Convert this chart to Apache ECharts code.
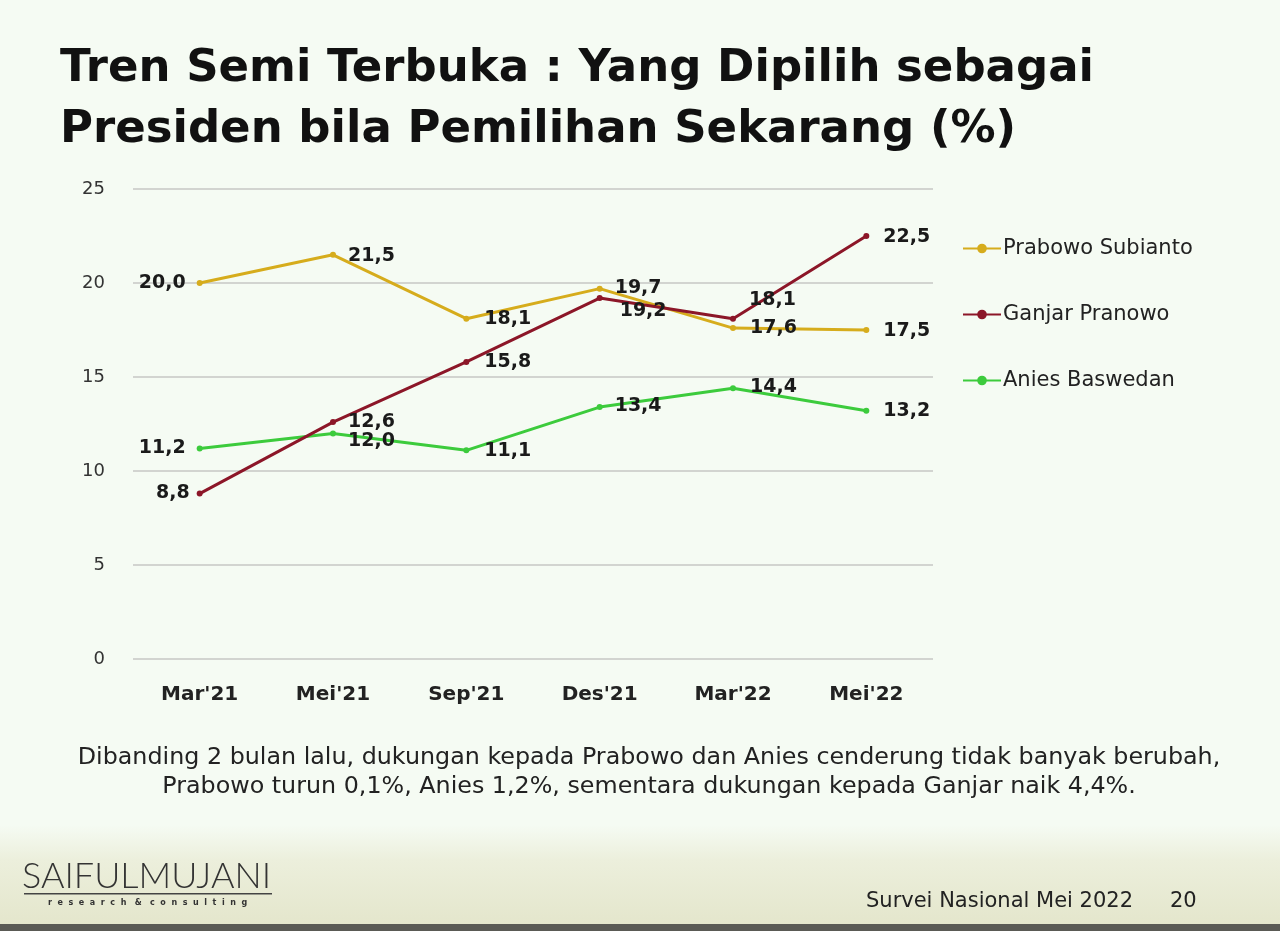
<!DOCTYPE html>
<html><head><meta charset="utf-8">
<script src="https://cdn.jsdelivr.net/npm/echarts@6/dist/echarts.min.js"></script>
<style>html,body{margin:0;padding:0;background:#f5fbf3;}#c{width:1280px;height:931px;}</style>
</head><body><div id="c"></div>
<script>
var categories = ["Mar'21","Mei'21","Sep'21","Des'21","Mar'22","Mei'22"];
var prabowo = [20.0, 21.5, 18.1, 19.7, 17.6, 17.5];
var ganjar  = [8.8, 12.6, 15.8, 19.2, 18.1, 22.5];
var anies   = [11.2, 12.0, 11.1, 13.4, 14.4, 13.2];
var seriesNames = ['Prabowo Subianto','Ganjar Pranowo','Anies Baswedan'];
var yTicks = [0, 5, 10, 15, 20, 25];

var FONT = '"DejaVu Sans", Verdana, sans-serif';
var labelBase = {show:true, fontFamily:FONT, fontSize:19, fontWeight:'bold', color:'#1a1a1a',
  formatter:function(p){return p.value.toFixed(1).replace('.', ',');}};
function withLabels(vals, specs){
  return vals.map(function(v,i){
    var s = specs[i];
    return {value:v, label:{position:s[0], offset:[s[1], s[2]]}};
  });
}
var pLab = [['left',-6,0],['right',7,1],['right',10,0],['right',7,-1],['right',9,0],['right',9,1]];
var gLab = [['left',-2,0],['right',7,0],['right',10,0],['right',12,13],['right',8,-19],['right',9,1]];
var aLab = [['left',-6,0],['right',7,8],['right',10,1],['right',7,-1],['right',9,-1],['right',9,0]];

var chart = echarts.init(document.getElementById('c'), null, {renderer:'canvas'});
var option = {
  backgroundColor:'#f5fbf3',
  animation:false,
  grid:{left:133, right:347, top:189, bottom:272},
  legend:{orient:'vertical', left:957, top:233, itemGap:45, itemWidth:38, itemHeight:12,
    textStyle:{fontFamily:FONT, fontSize:21, color:'#222', padding:[0,0,0,-3]},
    data:seriesNames},
  xAxis:{type:'category', data:categories, boundaryGap:true,
    axisLine:{show:false}, axisTick:{show:false},
    axisLabel:{fontFamily:FONT, fontSize:20, fontWeight:'bold', color:'#222', margin:26}},
  yAxis:{type:'value', min:0, max:25, interval:5,
    axisLine:{show:false}, axisTick:{show:false},
    axisLabel:{fontFamily:FONT, fontSize:18, color:'#333', margin:28,
      formatter:function(v){return yTicks.indexOf(v)>=0 ? String(v) : '';}},
    splitLine:{lineStyle:{color:'#d2d4d0', width:2}}},
  series:[
    {name:seriesNames[0], type:'line', data:withLabels(prabowo,pLab), color:'#d6ac1c',
     lineStyle:{width:3}, symbol:'circle', symbolSize:6, label:labelBase, z:3},
    {name:seriesNames[1], type:'line', data:withLabels(ganjar,gLab), color:'#8c1628',
     lineStyle:{width:3}, symbol:'circle', symbolSize:6, label:labelBase, z:4},
    {name:seriesNames[2], type:'line', data:withLabels(anies,aLab), color:'#3ccb3c',
     lineStyle:{width:3}, symbol:'circle', symbolSize:6, label:labelBase, z:2}
  ],
  graphic:[
    {type:'rect', z:-10, silent:true, shape:{x:0,y:825,width:1280,height:100},
     style:{fill:new echarts.graphic.LinearGradient(0,0,0,1,[{offset:0,color:'#f5fbf3'},{offset:0.35,color:'#ecefdc'},{offset:1,color:'#e4e6cc'}])}},
    {type:'rect', z:-9, silent:true, shape:{x:0,y:924,width:1280,height:7}, style:{fill:'#5a5a55'}},
    {type:'text', x:60, y:69, style:{text:'Tren Semi Terbuka : Yang Dipilih sebagai', fontFamily:FONT, fontSize:45, fontWeight:'bold', fill:'#111', verticalAlign:'middle',
      shadowColor:'rgba(0,0,0,0.25)', shadowBlur:3, shadowOffsetX:2, shadowOffsetY:2}},
    {type:'text', x:60, y:130, style:{text:'Presiden bila Pemilihan Sekarang (%)', fontFamily:FONT, fontSize:45, fontWeight:'bold', fill:'#111', verticalAlign:'middle',
      shadowColor:'rgba(0,0,0,0.25)', shadowBlur:3, shadowOffsetX:2, shadowOffsetY:2}},
    {type:'text', x:649, y:758, style:{text:'Dibanding 2 bulan lalu, dukungan kepada Prabowo dan Anies cenderung tidak banyak berubah,', fontFamily:FONT, fontSize:23.8, fill:'#222', align:'center', verticalAlign:'middle'}},
    {type:'text', x:649, y:787, style:{text:'Prabowo turun 0,1%, Anies 1,2%, sementara dukungan kepada Ganjar naik 4,4%.', fontFamily:FONT, fontSize:23.8, fill:'#222', align:'center', verticalAlign:'middle'}},
    {type:'text', x:22, y:876, style:{text:'SAIFULMUJANI', fontFamily:'Lato', fontSize:36, fontWeight:300, fill:'#333', verticalAlign:'middle'}},
    {type:'rect', shape:{x:24,y:893,width:248,height:1.5}, style:{fill:'#444'}},
    {type:'text', x:48, y:903, style:{text:'r  e  s  e  a  r  c  h   &   c  o  n  s  u  l  t  i  n  g', fontFamily:FONT, fontSize:8, fontWeight:'bold', fill:'#333', verticalAlign:'middle'}},
    {type:'text', x:866, y:902, style:{text:'Survei Nasional Mei 2022', fontFamily:FONT, fontSize:21, fill:'#222', verticalAlign:'middle'}},
    {type:'text', x:1170, y:902, style:{text:'20', fontFamily:FONT, fontSize:21, fill:'#222', verticalAlign:'middle'}}
  ]
};
chart.setOption(option);
</script></body></html>
